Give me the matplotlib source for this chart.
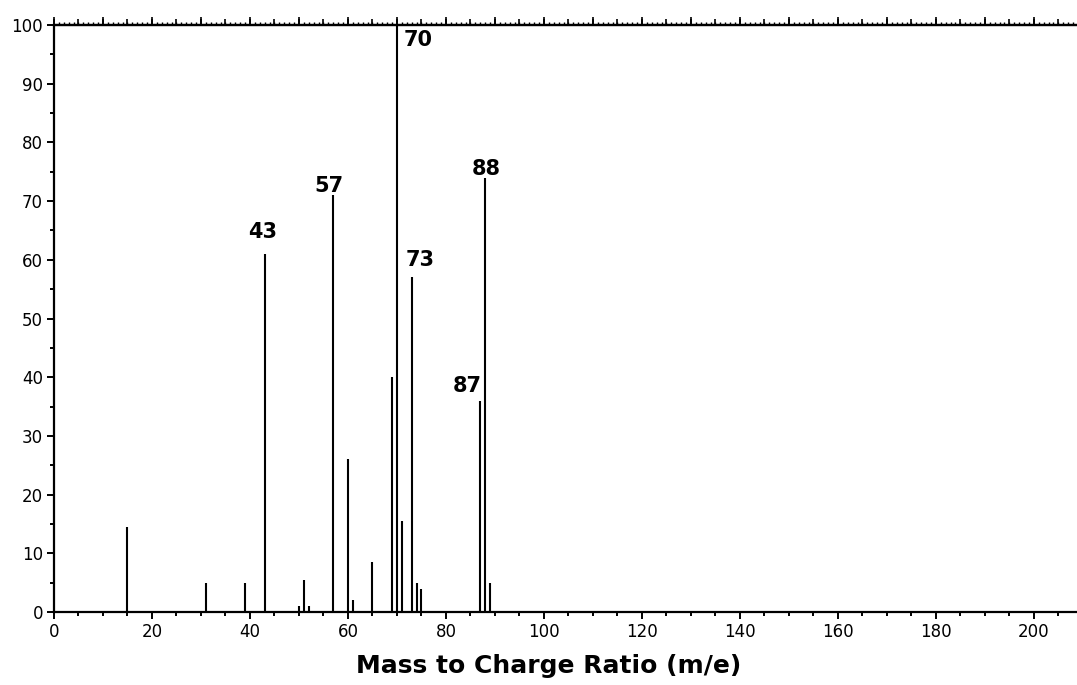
import matplotlib.pyplot as plt
from matplotlib.ticker import MultipleLocator

# mass spectrum peaks (m/z, relative intensity)
mz = [15, 31, 39, 43, 50, 51, 52, 57, 60, 61, 65, 69, 70, 71, 73, 74, 75, 87, 88, 89]
intensity = [14.5, 5, 5, 61, 1, 5.5, 1, 71, 26, 2, 8.5, 40, 100, 15.5, 57, 5, 4, 36, 74, 5]

labelled = [43, 57, 70, 73, 87, 88]

xlabel = 'Mass to Charge Ratio (m/e)'


def main():
    fig = plt.figure(figsize=(10.77, 6.85), dpi=100)
    ax = fig.add_axes([54 / 1077, 1 - 612 / 685, 1 - 54 / 1077, (612 - 25) / 685])

    ax.vlines(mz, 0, intensity, color='black', linewidth=1.5)

    # label placement: (dx in m/z units, dy in % units, ha, va)
    place = {
        43: (-0.5, 2.7, 'center', 'baseline'),
        57: (-0.8, 0.6, 'center', 'baseline'),
        70: (1.4, -0.9, 'left', 'top'),
        73: (-1.2, 1.9, 'left', 'baseline'),
        87: (0.4, 1.5, 'right', 'baseline'),
        88: (0.3, 0.4, 'center', 'baseline'),
    }
    for m, v in zip(mz, intensity):
        if m in labelled:
            dx, dy, ha, va = place[m]
            ax.text(m + dx, v + dy, str(m), ha=ha, va=va,
                    fontsize=15, fontweight='bold')

    ax.set_xlim(0, 208.8)
    ax.set_ylim(0, 100)

    ax.spines['right'].set_visible(False)
    for s in ['left', 'bottom', 'top']:
        ax.spines[s].set_linewidth(1.6)

    ax.xaxis.set_major_locator(MultipleLocator(20))
    ax.xaxis.set_minor_locator(MultipleLocator(5))
    ax.yaxis.set_major_locator(MultipleLocator(10))
    ax.yaxis.set_minor_locator(MultipleLocator(5))
    ax.tick_params(axis='both', which='major', direction='out', length=5,
                   width=1.4, labelsize=12, pad=3)
    ax.tick_params(axis='both', which='minor', direction='out', length=3,
                   width=1.4)

    # top ruler: every 1, 5 and 10
    top1 = ax.secondary_xaxis('top')
    top1.xaxis.set_major_locator(MultipleLocator(10))
    top1.xaxis.set_minor_locator(MultipleLocator(1))
    top1.tick_params(which='major', direction='out', length=6, width=1.2,
                     labeltop=False)
    top1.tick_params(which='minor', direction='out', length=2, width=1.0)
    top1.spines['top'].set_linewidth(1.6)
    top2 = ax.secondary_xaxis('top')
    top2.xaxis.set_major_locator(MultipleLocator(5))
    top2.tick_params(which='major', direction='out', length=4, width=1.2,
                     labeltop=False)
    top2.spines['top'].set_visible(False)

    fig.text(549 / 1077, 1 - 666 / 685, xlabel, ha='center', va='center',
             fontsize=18, fontweight='bold')

    fig.savefig('out.png', dpi=100)


if __name__ == "__main__":
    main()
